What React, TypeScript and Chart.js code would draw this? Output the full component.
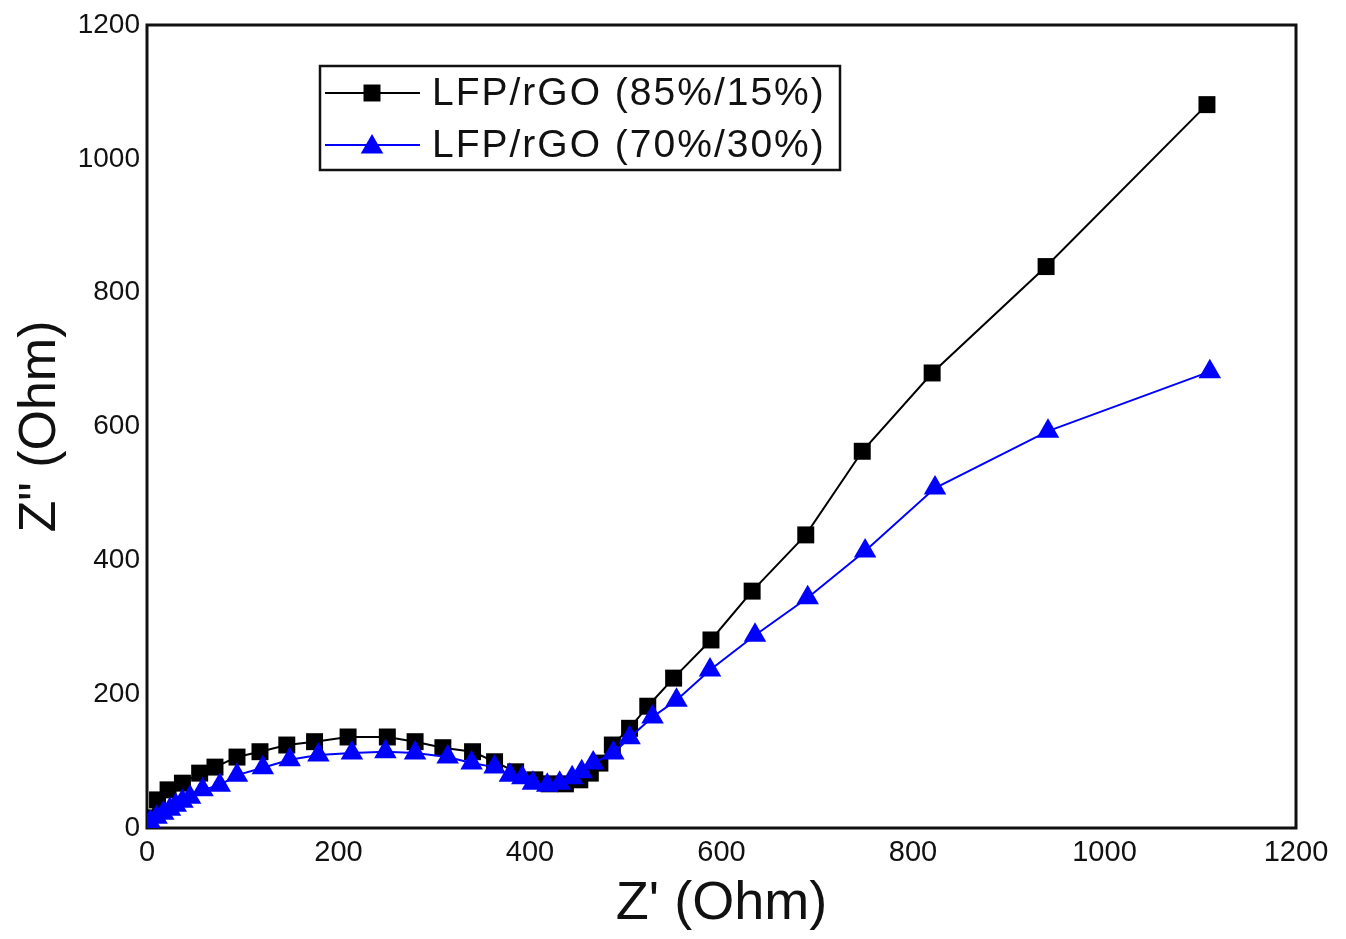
import React, { useEffect, useRef } from "react";
import { Chart, registerables } from "chart.js";

Chart.register(...registerables);

const seriesNames = ["LFP/rGO (85%/15%)", "LFP/rGO (70%/30%)"];

const blackX = [2, 11, 22, 37, 55, 71, 94, 118, 146, 175, 210, 251, 280, 309, 340, 363, 385, 405, 420, 437, 452, 463, 473, 486, 504, 523, 550, 589, 632, 688, 747, 820, 939, 1107];
const blackY = [15, 42, 57, 67, 82, 91, 106, 114, 124, 129, 136, 136, 129, 120, 114, 99, 84, 72, 66, 66, 72, 82, 97, 124, 149, 182, 224, 281, 354, 438, 563, 680, 839, 1081];

const blueX = [3, 10, 17, 24, 30, 37, 45, 58, 76, 94, 121, 149, 179, 214, 249, 280, 314, 339, 363, 379, 392, 403, 418, 431, 444, 454, 466, 487, 504, 528, 553, 588, 635, 690, 750, 823, 941, 1110];
const blueY = [9, 16, 22, 28, 34, 40, 46, 57, 64, 79, 90, 102, 109, 112, 114, 112, 106, 97, 91, 79, 75, 67, 64, 67, 75, 84, 97, 112, 135, 166, 191, 236, 288, 344, 414, 508, 593, 682];

const xTicks = [0, 200, 400, 600, 800, 1000, 1200];
const yTicks = [0, 200, 400, 600, 800, 1000, 1200];

const FONT = '"Liberation Sans", Arial, sans-serif';

const boxPlugin = {
  id: "boxPlugin",
  beforeDatasetsDraw(chart: any) {
    const { ctx, chartArea: a } = chart;
    ctx.save();
    ctx.strokeStyle = "#111";
    ctx.lineWidth = 3;
    ctx.strokeRect(a.left, a.top, a.right - a.left, a.bottom - a.top);
    ctx.restore();
  },
};

function drawMarker(ctx: CanvasRenderingContext2D, style: string, r: number, x: number, y: number, color: string) {
  ctx.fillStyle = color;
  ctx.beginPath();
  if (style === "rect") {
    const s = Math.SQRT1_2 * r;
    ctx.rect(x - s, y - s, 2 * s, 2 * s);
  } else {
    let rad = 0;
    ctx.moveTo(x + Math.sin(rad) * r, y - Math.cos(rad) * r);
    rad += (2 * Math.PI) / 3;
    ctx.lineTo(x + Math.sin(rad) * r, y - Math.cos(rad) * r);
    rad += (2 * Math.PI) / 3;
    ctx.lineTo(x + Math.sin(rad) * r, y - Math.cos(rad) * r);
    ctx.closePath();
  }
  ctx.fill();
}

const legendPlugin = {
  id: "insideLegend",
  afterDraw(chart: any) {
    const { ctx, chartArea: a } = chart;
    const bx = a.left + 173;
    const by = a.top + 41;
    const bw = 520;
    const bh = 104;
    ctx.save();
    ctx.fillStyle = "#fff";
    ctx.fillRect(bx, by, bw, bh);
    ctx.strokeStyle = "#111";
    ctx.lineWidth = 2.5;
    ctx.strokeRect(bx, by, bw, bh);
    const rows = [
      { y: by + 27, color: "#000000", style: "rect", r: 12 },
      { y: by + 79, color: "#0000FF", style: "triangle", r: 13 },
    ];
    rows.forEach((row, i) => {
      ctx.strokeStyle = row.color;
      ctx.lineWidth = 2;
      ctx.beginPath();
      ctx.moveTo(bx + 5, row.y);
      ctx.lineTo(bx + 100, row.y);
      ctx.stroke();
      drawMarker(ctx, row.style, row.r, bx + 52, row.y + (row.style === "triangle" ? 2 : 0), row.color);
      ctx.fillStyle = "#111";
      ctx.font = `39px ${FONT}`;
      (ctx as any).letterSpacing = "2px";
      ctx.textBaseline = "middle";
      ctx.textAlign = "left";
      ctx.fillText(seriesNames[i], bx + 112, row.y + 1);
      (ctx as any).letterSpacing = "0px";
    });
    ctx.restore();
  },
};

export default function App() {
  const ref = useRef<HTMLCanvasElement | null>(null);
  useEffect(() => {
    document.body.style.margin = "0";
    const canvas = ref.current!;
    const chart = new Chart(canvas, {
      type: "scatter",
      data: {
        datasets: [
          {
            label: seriesNames[0],
            data: blackX.map((x, i) => ({ x, y: blackY[i] })),
            showLine: true,
            borderColor: "#000000",
            backgroundColor: "#000000",
            borderWidth: 2,
            pointStyle: "rect",
            pointRadius: 12,
            pointBorderWidth: 0,
            tension: 0,
            order: 1,
          },
          {
            label: seriesNames[1],
            data: blueX.map((x, i) => ({ x, y: blueY[i] })),
            showLine: true,
            borderColor: "#0000FF",
            backgroundColor: "#0000FF",
            borderWidth: 2,
            pointStyle: "triangle",
            pointRadius: 13,
            pointBorderWidth: 0,
            tension: 0,
            order: 0,
          },
        ],
      },
      options: {
        animation: false,
        responsive: false,
        layout: { padding: { left: 0, top: 25, right: 50, bottom: 0 } },
        plugins: { legend: { display: false }, tooltip: { enabled: false } },
        scales: {
          x: {
            type: "linear",
            min: 0,
            max: 1200,
            afterBuildTicks: (s: any) => {
              s.ticks = xTicks.map((v) => ({ value: v }));
            },
            afterFit: (s: any) => {
              s.height = 111;
            },
            grid: { display: false, drawTicks: false },
            border: { display: false },
            ticks: {
              color: "#111",
              font: { family: FONT, size: 29 },
              padding: 8,
              maxRotation: 0,
              callback: (v: any) => String(v),
            },
            title: {
              display: true,
              text: "Z' (Ohm)",
              color: "#111",
              font: { family: FONT, size: 54 },
              padding: { top: 0, bottom: 2 },
            },
          },
          y: {
            type: "linear",
            min: 0,
            max: 1200,
            afterBuildTicks: (s: any) => {
              s.ticks = yTicks.map((v) => ({ value: v }));
            },
            afterFit: (s: any) => {
              s.width = 147;
            },
            grid: { display: false, drawTicks: false },
            border: { display: false },
            ticks: {
              color: "#111",
              font: { family: FONT, size: 28 },
              padding: 7,
              callback: (v: any) => String(v),
            },
            title: {
              display: true,
              text: 'Z" (Ohm)',
              color: "#111",
              font: { family: FONT, size: 52 },
              padding: { top: 9, bottom: 0 },
            },
          },
        },
      },
      plugins: [boxPlugin, legendPlugin],
    } as any);
    return () => chart.destroy();
  }, []);
  return (
    <div style={{ position: "absolute", left: 0, top: 0, width: 1346, height: 939, background: "#fff" }}>
      <canvas ref={ref} width={1346} height={939} />
    </div>
  );
}
